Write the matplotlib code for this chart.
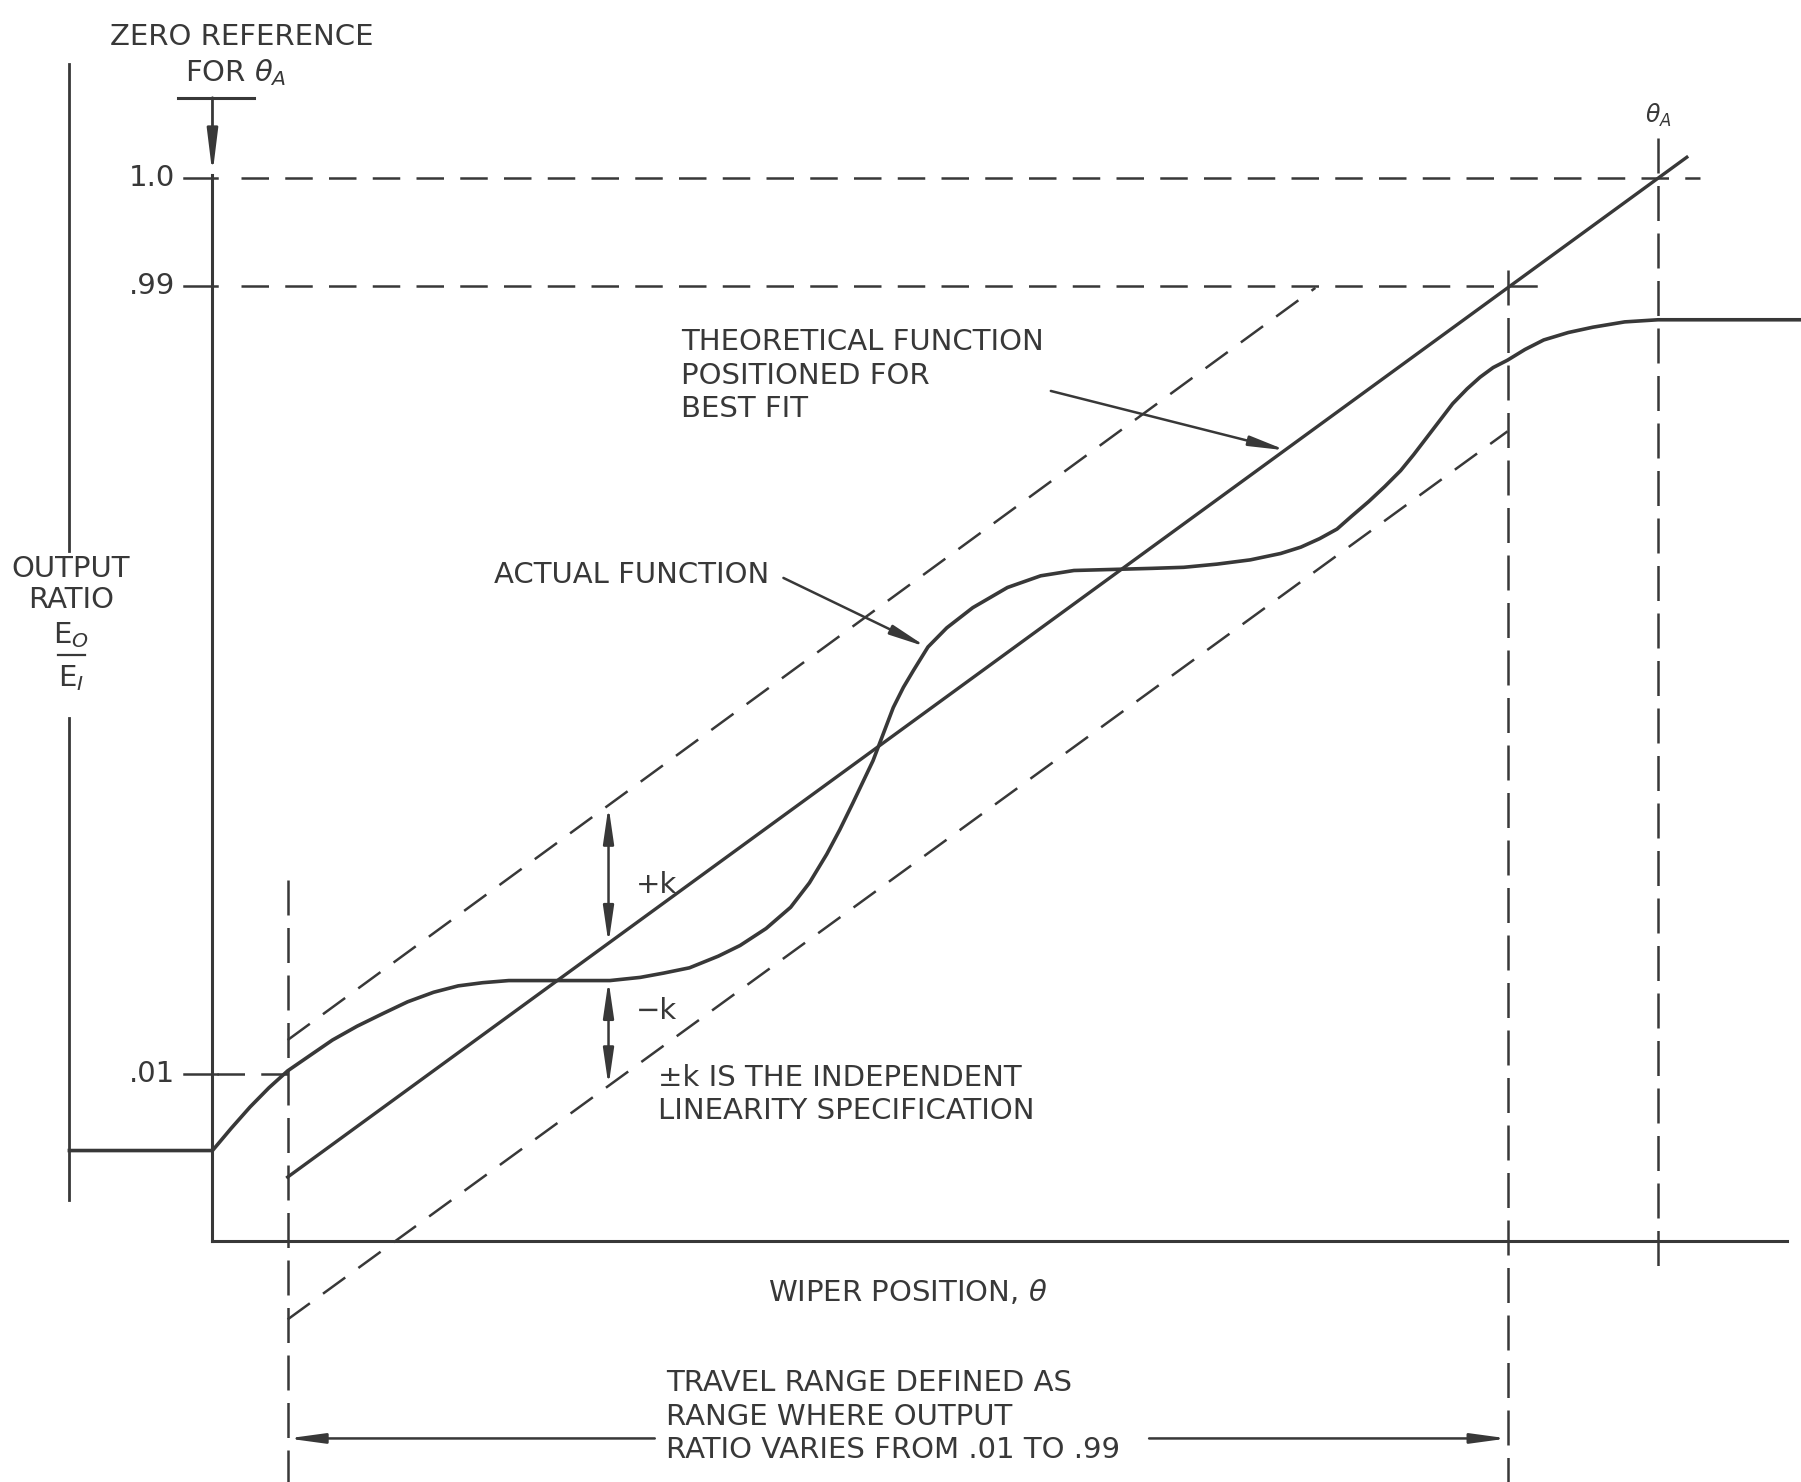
import matplotlib.pyplot as plt

# birimler: teta = silecek konumu (teta_A = 100), oran = cikis orani (1.0 = 100)
actual_theta = [-9.9, 0.0, 1.3, 2.6, 3.9, 5.2, 6.8, 8.3, 10.0, 11.8, 13.5, 15.3, 17.0, 18.7,
                20.5, 22.2, 24.5, 27.5, 29.6, 31.2, 33.0, 35.0, 36.5, 38.3, 40.0, 41.3, 42.5,
                43.4, 44.3, 45.0, 45.7, 46.4, 47.1, 47.8, 48.5, 49.5, 50.8, 52.6, 55.0, 57.3,
                59.6, 62.3, 65.0, 67.2, 69.5, 71.8, 73.9, 75.3, 76.6, 77.8, 78.8, 80.0, 81.1,
                82.2, 83.1, 84.0, 84.9, 85.8, 86.8, 87.7, 88.6, 89.6, 90.8, 92.1, 93.8, 95.5,
                97.7, 100.0, 110.0]
actual_ratio = [8.5, 8.5, 10.6, 12.6, 14.4, 16.0, 17.5, 18.9, 20.2, 21.4, 22.5, 23.4, 24.0, 24.3,
                24.5, 24.5, 24.5, 24.5, 24.8, 25.2, 25.7, 26.8, 27.8, 29.4, 31.4, 33.7, 36.4,
                38.7, 41.2, 43.2, 45.2, 47.7, 50.2, 52.1, 53.7, 55.9, 57.7, 59.6, 61.5, 62.6,
                63.1, 63.2, 63.3, 63.4, 63.7, 64.1, 64.7, 65.3, 66.1, 67.0, 68.2, 69.6, 71.0,
                72.5, 74.0, 75.6, 77.2, 78.8, 80.2, 81.3, 82.2, 82.9, 83.9, 84.8, 85.5, 86.0,
                86.5, 86.7, 86.7]

theory_theta = [5.2, 102.0]
theory_ratio = [6.0, 102.0]
upper_theta = [5.2, 76.3]
upper_ratio = [18.9, 89.7]
lower_theta = [5.2, 89.6]
lower_ratio = [-7.4, 76.2]

level_labels = ['1.0', '.99', '.01']
level_values = [100.0, 89.9, 15.7]
level_ends = [102.9, 91.8, 5.2]

theta_a = 100.0
theta_01 = 5.2
theta_99 = 89.6
k_theta = 27.4
k_marks = [40.9, 28.0, 24.5, 14.6]   # ust bant, teorik, gercek, alt bant

ink = '#383838'
fnt = ['DejaVu Sans']
fs = 21
dash = (0, (11, 6.5))
vdash = (0, (14, 5))

fig = plt.figure(figsize=(18.01, 14.82), dpi=100)
ax = fig.add_axes([0, 0, 1, 1])
ax.set_xlim(-14.7, 109.9)
ax.set_ylim(-22.7, 116.8)
ax.axis('off')

# eksenler
ax.plot([0, 0], [0, 100.3], color=ink, lw=2.2)
ax.plot([0, 108.9], [0, 0], color=ink, lw=2.2)
ax.plot([-9.9, -9.9], [64.9, 110.8], color=ink, lw=2.0)
ax.plot([-9.9, -9.9], [3.8, 49.2], color=ink, lw=2.0)

# sifir referansi oku
ax.plot([-2.4, 2.9], [107.6, 107.6], color=ink, lw=2.2)
ax.annotate('', xy=(0, 100.4), xytext=(0, 107.6),
            arrowprops=dict(arrowstyle='-|>,head_length=2.6,head_width=0.32', color=ink, lw=2.0,
                            shrinkA=0, shrinkB=0))

# seviye cizgileri
for lab, val, end in zip(level_labels, level_values, level_ends):
    ax.plot([-2.0, 0.3], [val, val], color=ink, lw=1.8)
    ax.plot([2.0 if val > 50 else 0.3, end], [val, val], color=ink, lw=1.8, ls=dash)
    ax.text(-2.6, val, lab, ha='right', va='center', fontsize=fs, color=ink, family=fnt)

# dikey kesikli cizgiler
ax.plot([theta_01, theta_01], [34.0, -22.7], color=ink, lw=1.8, ls=vdash)
ax.plot([theta_99, theta_99], [91.4, -22.7], color=ink, lw=1.8, ls=vdash)
ax.plot([theta_a, theta_a], [103.8, -3.2], color=ink, lw=1.8, ls=vdash)

# bant ve fonksiyonlar
ax.plot(upper_theta, upper_ratio, color=ink, lw=1.8, ls=dash)
ax.plot(lower_theta, lower_ratio, color=ink, lw=1.8, ls=dash)
ax.plot(theory_theta, theory_ratio, color=ink, lw=2.4)
ax.plot(actual_theta, actual_ratio, color=ink, lw=2.6, solid_joinstyle='round')

# +k / -k oklari
kp = dict(arrowstyle='<|-|>,head_length=2.2,head_width=0.32', color=ink, lw=1.8, shrinkA=0, shrinkB=0)
ax.annotate('', xy=(k_theta, k_marks[0]), xytext=(k_theta, k_marks[1]), arrowprops=kp)
ax.annotate('', xy=(k_theta, k_marks[2]), xytext=(k_theta, k_marks[3]), arrowprops=kp)
ax.text(29.3, 33.5, '+k', ha='left', va='center', fontsize=fs, color=ink, family=fnt)
ax.text(29.3, 21.6, '\u2212k', ha='left', va='center', fontsize=fs, color=ink, family=fnt)
ax.text(30.8, 16.6, '\u00b1k IS THE INDEPENDENT\nLINEARITY SPECIFICATION', ha='left', va='top',
        fontsize=fs, color=ink, family=fnt, linespacing=1.22)

# aciklamalar
ap = dict(arrowstyle='-|>,head_length=2.2,head_width=0.3', color=ink, lw=1.8, shrinkA=0, shrinkB=0)
ax.text(19.5, 62.7, 'ACTUAL FUNCTION', ha='left', va='center', fontsize=fs, color=ink, family=fnt)
ax.annotate('', xy=(49.4, 55.9), xytext=(39.5, 62.4), arrowprops=ap)
ax.text(32.4, 85.9, 'THEORETICAL FUNCTION\nPOSITIONED FOR\nBEST FIT', ha='left', va='top',
        fontsize=fs, color=ink, family=fnt, linespacing=1.24)
ax.annotate('', xy=(74.3, 74.4), xytext=(58.0, 80.0), arrowprops=ap)

ax.text(2.0, 113.3, 'ZERO REFERENCE', ha='center', va='center', fontsize=fs, color=ink, family=fnt)
ax.text(1.6, 110.0, 'FOR $\\theta_A$', ha='center', va='center', fontsize=fs, color=ink, family=fnt)
ax.text(theta_a, 105.9, '$\\theta_A$', ha='center', va='center', fontsize=fs - 4, color=ink)

ax.text(-9.8, 61.8, 'OUTPUT\nRATIO', ha='center', va='center', fontsize=fs, color=ink, family=fnt,
        linespacing=1.15)
ax.text(-9.8, 57.0, 'E$_O$', ha='center', va='center', fontsize=fs, color=ink, family=fnt)
ax.plot([-10.7, -8.8], [55.1, 55.1], color=ink, lw=1.6)
ax.text(-9.8, 53.0, 'E$_I$', ha='center', va='center', fontsize=fs, color=ink, family=fnt)

ax.text(48.1, -4.9, 'WIPER POSITION, $\\theta$', ha='center', va='center', fontsize=fs, color=ink,
        family=fnt)

# hareket araligi
ax.text(31.4, -12.1, 'TRAVEL RANGE DEFINED AS\nRANGE WHERE OUTPUT\nRATIO VARIES FROM .01 TO .99',
        ha='left', va='top', fontsize=fs, color=ink, family=fnt, linespacing=1.24)
ax.annotate('', xy=(theta_01, -18.6), xytext=(30.6, -18.6), arrowprops=ap)
ax.annotate('', xy=(theta_99, -18.6), xytext=(64.8, -18.6), arrowprops=ap)

fig.savefig('out.png', dpi=100, facecolor='white')
